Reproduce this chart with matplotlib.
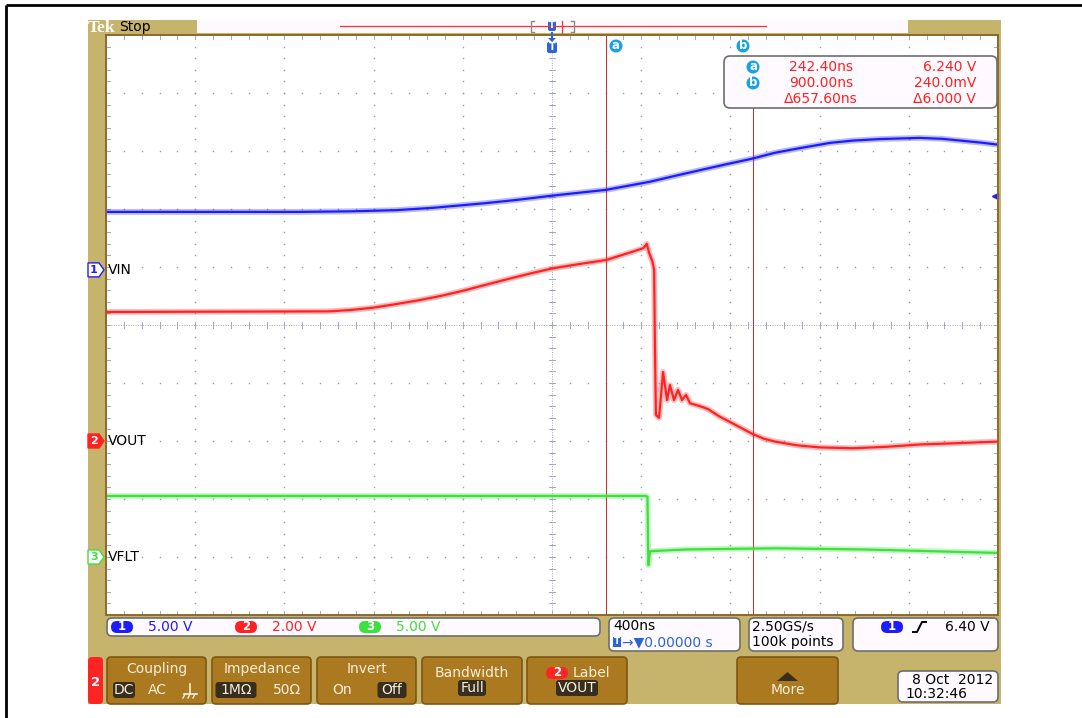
import matplotlib
matplotlib.use('Agg')
import matplotlib.pyplot as plt
from matplotlib.patches import Rectangle, FancyBboxPatch, Polygon, Circle

W, H = 1082, 718

# record: 400 ns/div, trigger at t = 0
vin_t = [-2000, -1130, -900, -700, -534, -300, -150, 0, 242, 439, 550, 664, 780, 900, 1000,
         1112, 1247, 1350, 1471, 1650, 1750, 1830, 1920, 2000]
vin_v = [5.0, 5.0, 5.05, 5.15, 5.35, 5.75, 6.05, 6.40, 6.9, 7.6, 8.1, 8.6, 9.1, 9.6, 10.1,
         10.5, 10.95, 11.15, 11.28, 11.38, 11.3, 11.15, 10.98, 10.8]

vout_t = [-2000, -1000, -900, -800, -700, -600, -500, -400, -300, -200, -100, 0, 120, 242.4,
          350, 410, 425, 435, 450, 458, 462, 466, 480, 498, 516, 529, 547, 565, 583, 601, 619,
          664, 700, 750, 812, 900, 950, 1000, 1100, 1200, 1350, 1500, 1650, 1800, 2000]
vout_v = [4.45, 4.47, 4.52, 4.6, 4.72, 4.85, 5.0, 5.18, 5.38, 5.58, 5.77, 5.95, 6.1, 6.24,
          6.5, 6.65, 6.8, 6.5, 6.2, 5.9, 3.0, 0.9, 0.8, 2.38, 1.41, 1.93, 1.41, 1.76, 1.41, 1.59, 1.3,
          1.2, 1.1, 0.85, 0.6, 0.24, 0.08, -0.02, -0.15, -0.22, -0.25, -0.2, -0.12, -0.08, -0.02]

vflt_t = [-2000, 420, 428, 432, 440, 600, 1000, 1400, 2000]
vflt_v = [5.26, 5.26, 5.2, -0.7, 0.5, 0.65, 0.75, 0.65, 0.35]

ch_names = ['VIN', 'VOUT', 'VFLT']
ch_scales = [5.0, 2.0, 5.0]          # V/div
ch_pos = [0.95, -2.0, -4.0]          # ground marker, divisions from centre
ch_colors = ['#1c1cff', '#ff2222', '#3ee03e']
ch_scale_labels = ['5.00 V', '2.00 V', '5.00 V']

cursor_t = [242.4, 900.0]
readout_rows = [('a', '242.40ns', '6.240 V'), ('b', '900.00ns', '240.0mV'), ('', '\u0394657.60ns', '\u03946.000 V')]
trig_level = 6.40

TAN = '#c6b46c'
BTN = '#ab791f'
BTN_EDGE = '#7d5714'
CYAN = '#16a2e6'
FONT = 'DejaVu Sans'
FS = 10

fig = plt.figure(figsize=(W / 100, H / 100), dpi=100)
fig.patch.set_facecolor('white')
fig.patch.set_edgecolor('white')
fig.patch.set_linewidth(0)


def pixel_axes(z):
    a = fig.add_axes([0, 0, 1, 1], zorder=z)
    a.set_xlim(0, W)
    a.set_ylim(H, 0)
    a.set_axis_off()
    a.patch.set_visible(False)
    return a


bg = pixel_axes(0)
ov = pixel_axes(3)

# page frame and scope bezel
bg.plot([6, W], [5, 5], color='black', lw=2.0, solid_capstyle='butt')
bg.plot([6, 6], [5, H], color='black', lw=2.0, solid_capstyle='butt')
bg.add_patch(Rectangle((88, 20), 913, 684, fc=TAN, ec='none'))

# header
bg.text(88, 27.5, 'Tek', family='Liberation Serif', weight='bold', size=12.5, color='white', va='center')
bg.text(119, 27, 'Stop', family=FONT, size=FS, color='black', va='center')
bg.add_patch(Rectangle((197, 20), 711, 13, fc='#fdf9fd', ec='none'))
bg.plot([340, 766], [26, 26], color='#ff3030', lw=0.9)
for bx, d in [(531, 1), (574, -1)]:
    bg.plot([bx + 3 * d, bx, bx, bx + 3 * d], [21, 21, 32, 32], color='#8a8a8a', lw=1.0)
bg.plot([562, 562], [21, 33], color='#ff3030', lw=0.9)
bg.add_patch(FancyBboxPatch((548, 21), 8, 10, boxstyle='round,pad=0,rounding_size=2', fc='#2a64d8', ec='none'))
bg.text(552, 26, 'T', color='white', size=6, ha='center', va='center', weight='bold')

# graticule
gx = fig.add_axes([106 / W, 1 - 615 / H, 892 / W, 580 / H], zorder=1)
gx.set_xlim(-2000, 2000)
gx.set_ylim(-5, 5)
gx.set_xticks([])
gx.set_yticks([])
gx.set_facecolor('white')
for s in gx.spines.values():
    s.set_color('#8c6a28')
    s.set_linewidth(1.4)

dot = dict(ls='none', marker='s', ms=1.0, mew=0, color='#9499b6')
sub_y = [-5 + 0.2 * k for k in range(51)]
sub_x = [-2000 + 80 * k for k in range(51)]
for gxv in range(-1600, 1601, 400):
    if gxv != 0:
        gx.plot([gxv] * len(sub_y), sub_y, **dot)
for gyv in range(-4, 5):
    if gyv != 0:
        gx.plot(sub_x, [gyv] * len(sub_x), **dot)
gx.axvline(0, color='#a2a8c2', lw=0.7, ls=(0, (1, 1.5)))
gx.axhline(0, color='#a2a8c2', lw=0.7, ls=(0, (1, 1.5)))
tick = dict(color='#a2a8c2', lw=0.7)
for yv in sub_y:
    gx.plot([-13, 13], [yv, yv], **tick)
    gx.plot([-2000, -1982], [yv, yv], **tick)
    gx.plot([1982, 2000], [yv, yv], **tick)
for xv in sub_x:
    gx.plot([xv, xv], [-0.05, 0.05], **tick)
    gx.plot([xv, xv], [4.93, 5], **tick)
    gx.plot([xv, xv], [-5, -4.93], **tick)

# cursors
gx.axvline(cursor_t[0], color='#c83434', lw=0.75)
gx.axvline(cursor_t[1], ymax=(615 - 108) / 580, color='#c83434', lw=0.75)

# waveforms
traces = [(vin_t, vin_v), (vout_t, vout_v), (vflt_t, vflt_v)]
for (tt, vv), pos, sc, col in zip(traces, ch_pos, ch_scales, ch_colors):
    yy = [pos + v / sc for v in vv]
    gx.plot(tt, yy, color=col, lw=4.2, alpha=0.3, solid_joinstyle='round')
    gx.plot(tt, yy, color=col, lw=1.6, solid_joinstyle='round')

# trigger level arrow on the right edge
gx.plot([1985], [ch_pos[0] + trig_level / ch_scales[0]], marker='<', ms=5, color='#1c1cff', clip_on=False)

# trigger position marker
ov.plot([552, 552], [33, 40], color='#2a64d8', lw=1.5)
ov.add_patch(Polygon([[548, 38], [556, 38], [552, 42]], fc='#2a64d8', ec='none'))
ov.add_patch(FancyBboxPatch((547, 42), 10, 11, boxstyle='round,pad=0,rounding_size=2', fc='#2a64d8', ec='none'))
ov.text(552, 47.5, 'T', color='white', size=7, ha='center', va='center', weight='bold')

# cursor tags
for cx, lab in [(616, 'a'), (743, 'b')]:
    ov.add_patch(Circle((cx, 46), 6.5, fc=CYAN, ec='none'))
    ov.text(cx, 45.5, lab, color='white', size=8.5, weight='bold', ha='center', va='center')

# cursor readout
ov.add_patch(FancyBboxPatch((724, 56), 273, 52, boxstyle='round,pad=0,rounding_size=6',
                            fc='#fffaff', ec='#6e6e6e', lw=1.2))
for (tag, tval, vval), ry in zip(readout_rows, [67, 83, 99]):
    if tag:
        ov.add_patch(Circle((753, ry), 6.5, fc=CYAN, ec='none'))
        ov.text(753, ry - 0.5, tag, color='white', size=8.5, weight='bold', ha='center', va='center')
    ov.text(821, ry, tval, color='#ff2020', size=FS, family=FONT, ha='center', va='center')
    ov.text(976, ry, vval, color='#ff2020', size=FS, family=FONT, ha='right', va='center')

# channel ground markers and labels
for name, pos, col, num in zip(ch_names, ch_pos, ch_colors, ['1', '2', '3']):
    y = 325 - pos * 58
    filled = num == '2'
    ov.add_patch(Polygon([[88, y - 7], [99, y - 7], [104, y], [99, y + 7], [88, y + 7]],
                         fc=col if filled else 'white', ec=col, lw=1.0))
    ov.text(94, y, num, color='white' if filled else col, size=8, ha='center', va='center', weight='bold')
    ov.text(108, y, name, color='black', size=FS, family=FONT, ha='left', va='center')


def rbox(x, y, w, h, fc, ec='#6e6e6e', r=5, lw=1.2, axis=ov):
    axis.add_patch(FancyBboxPatch((x, y), w, h, boxstyle='round,pad=0,rounding_size=%g' % r,
                                  fc=fc, ec=ec, lw=lw))


def pill(cx, cy, txt, col, w=22, h=12):
    rbox(cx - w / 2, cy - h / 2, w, h, col, ec='none', r=h / 2)
    ov.text(cx, cy, txt, color='white', size=8.5, weight='bold', ha='center', va='center')


# channel scale bar
rbox(107, 618, 493, 18, '#fffaff')
for cx, num, col, lab in zip([122, 246, 370], ['1', '2', '3'], ch_colors, ch_scale_labels):
    pill(cx, 627, num, col)
    ov.text(cx + 26, 627, lab, color=col, size=FS, family=FONT, ha='left', va='center')

# horizontal / acquisition / trigger readouts
rbox(609, 618, 131, 33, '#fffaff')
ov.text(613, 626, '400ns', color='black', size=FS, ha='left', va='center')
ov.add_patch(Rectangle((613, 637), 8, 10, fc='#2a64d8', ec='none'))
ov.text(617, 642, 'T', color='white', size=6.5, weight='bold', ha='center', va='center')
ov.text(622, 642, '\u2192\u25bc0.00000 s', color='#2a64d8', size=FS, ha='left', va='center')
rbox(749, 618, 94, 33, '#fffaff')
ov.text(752, 626, '2.50GS/s', color='black', size=FS, ha='left', va='center')
ov.text(752, 642, '100k points', color='black', size=FS, ha='left', va='center')
rbox(853, 618, 145, 33, '#fffaff')
pill(892, 627, '1', '#1c1cff')
ov.plot([913, 917, 922, 926], [632, 632, 622, 622], color='black', lw=1.4)
ov.text(990, 627, '%.2f V' % trig_level, color='black', size=FS, ha='right', va='center')

# soft-key menu
ov.add_patch(FancyBboxPatch((88, 657), 15, 47, boxstyle='round,pad=0,rounding_size=4', fc='#ff2424', ec='none'))
ov.text(95.5, 682, '2', color='white', size=9.5, weight='bold', ha='center', va='center')
buttons = [(107, 206, 'Coupling'), (212, 311, 'Impedance'), (317, 416, 'Invert'),
           (422, 522, 'Bandwidth'), (527, 627, 'Label'), (737, 838, 'More')]
for x0, x1, lab in buttons:
    rbox(x0, 657, x1 - x0, 47, BTN, ec=BTN_EDGE, r=4, lw=1.2)

TXT = '#f6eedb'


def key(x, y, txt, boxed=False, w=None):
    if boxed:
        rbox(x - w / 2, y - 8, w, 16, '#382e1e', ec='none', r=3)
    ov.text(x, y, txt, color=TXT, size=FS, ha='center', va='center')


key(157, 669, 'Coupling')
key(124, 690, 'DC', True, 22)
key(157, 690, 'AC')
# ground symbol
ov.plot([190, 190], [684, 694], color=TXT, lw=1.2)
ov.plot([184, 197], [694, 694], color=TXT, lw=1.2)
for gxp in [185, 190, 195]:
    ov.plot([gxp, gxp - 2], [694, 698], color=TXT, lw=1.0)
key(262, 669, 'Impedance')
key(236, 690, '1M\u03a9', True, 41)
key(287, 690, '50\u03a9')
key(367, 669, 'Invert')
key(342, 690, 'On')
key(392, 690, 'Off', True, 29)
key(472, 673, 'Bandwidth')
key(472, 688, 'Full', True, 28)
pill(557, 673, '2', '#ff2424')
ov.text(573, 673, 'Label', color=TXT, size=FS, ha='left', va='center')
key(577, 688, 'VOUT', True, 42)
ov.add_patch(Polygon([[777, 681], [798, 681], [787.5, 672]], fc='#3a2e1a', ec='none'))
key(788, 690, 'More')

# date / time
rbox(898, 671, 100, 31, '#fffaff')
ov.text(912, 680, '8 Oct  2012', color='black', size=FS, ha='left', va='center')
ov.text(905, 694, '10:32:46', color='black', size=FS, ha='left', va='center')

fig.savefig('out.png', dpi=100)
